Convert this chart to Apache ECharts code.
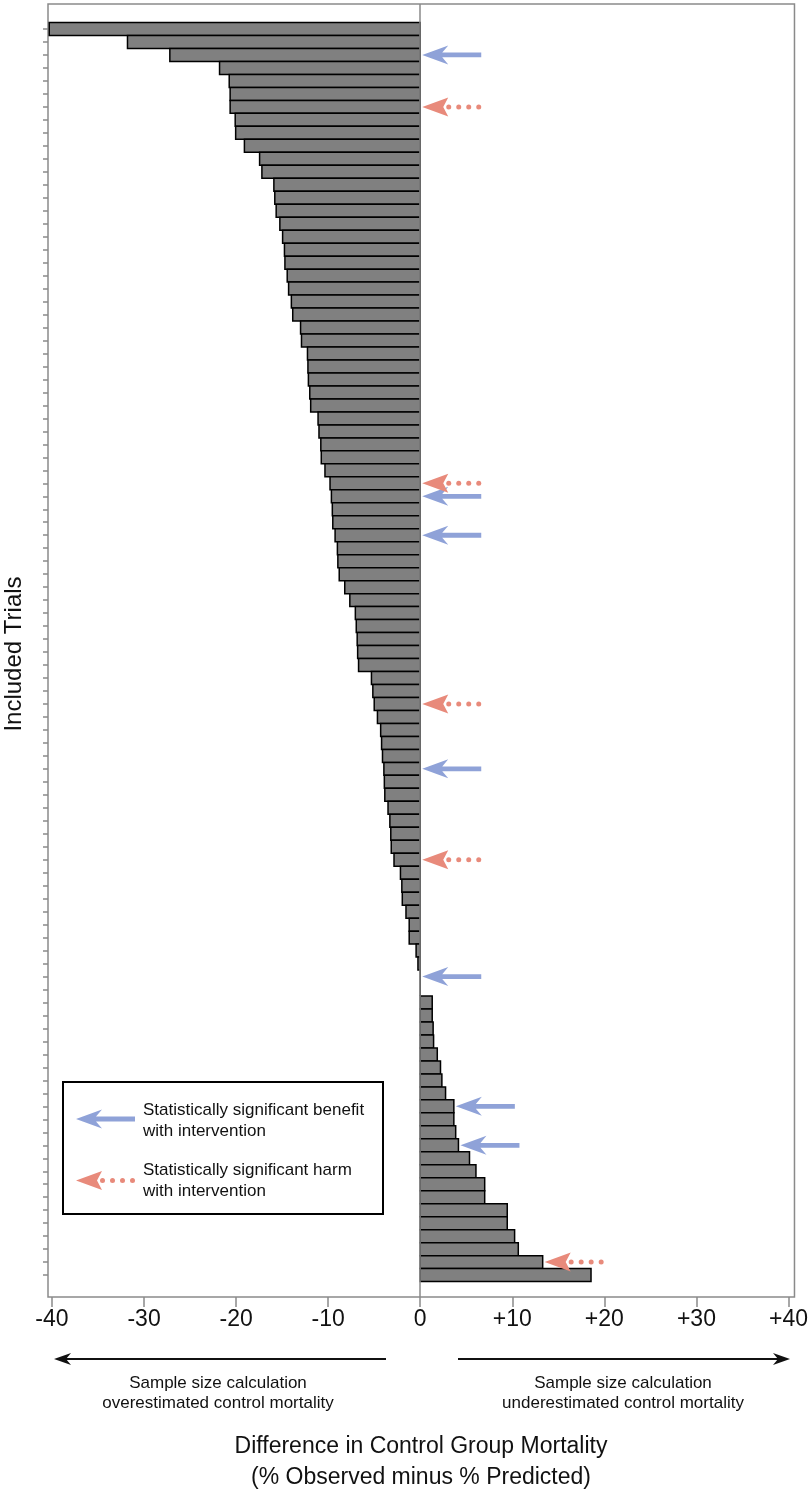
<!DOCTYPE html>
<html>
<head>
<meta charset="utf-8">
<script src="https://cdn.jsdelivr.net/npm/echarts@6/dist/echarts.min.js"></script>
<style>
html,body{margin:0;padding:0;background:#fff;}
#chart{width:811px;height:1500px;}
</style>
</head>
<body>
<div id="chart"></div>
<script>
// ---- data ----
const trialIndex = Array.from({length: 97}, (_, i) => i);
const mortalityDiff = [
  -40.3, -31.8, -27.2, -21.8, -20.75, -20.65, -20.65, -20.1, -20.05, -19.1,
  -17.45, -17.2, -15.9, -15.8, -15.65, -15.25, -14.95, -14.75, -14.7, -14.45,
  -14.3, -14.0, -13.85, -13.0, -12.9, -12.25, -12.2, -12.15, -12.0, -11.9,
  -11.1, -11.0, -10.8, -10.75, -10.35, -9.8, -9.65, -9.55, -9.5, -9.25,
  -9.0, -8.95, -8.8, -8.2, -7.65, -7.05, -6.95, -6.85, -6.8, -6.7,
  -5.3, -5.15, -5.0, -4.65, -4.3, -4.2, -4.1, -3.95, -3.9, -3.85,
  -3.5, -3.3, -3.2, -3.15, -2.85, -2.15, -2.0, -1.95, -1.55, -1.2,
  -1.2, -0.45, -0.25, 0, 0, 1.3, 1.3, 1.4, 1.45, 1.85,
  2.2, 2.35, 2.75, 3.65, 3.65, 3.85, 4.15, 5.35, 6.05, 7.0,
  7.0, 9.45, 9.45, 10.25, 10.65, 13.3, 18.55
];
const benefitTrials = [2, 36, 39, 57, 73, 83, 86];
const harmTrials = [6, 35, 52, 64, 95];
const xTicks = [-40, -30, -20, -10, 0, 10, 20, 30, 40];

const FONT = '"Liberation Sans", Arial, Helvetica, sans-serif';
const BLUE = '#8fa2d8';
const RED = '#e88a7b';

const chart = echarts.init(document.getElementById('chart'), null, {renderer: 'canvas'});

function benefitShape(tx, ty, z) {
  return {
    type: 'polygon', z: z || 0,
    shape: {points: [
      [tx, ty], [tx + 26, ty - 9.5], [tx + 20, ty - 2.4], [tx + 59, ty - 2.4],
      [tx + 59, ty + 2.4], [tx + 20, ty + 2.4], [tx + 26, ty + 9.5]
    ]},
    style: {fill: BLUE}
  };
}
function harmShape(tx, ty, z) {
  const children = [{
    type: 'polygon', z: z || 0,
    shape: {points: [[tx, ty], [tx + 26, ty - 9.5], [tx + 21, ty], [tx + 26, ty + 9.5]]},
    style: {fill: RED}
  }];
  [26.5, 36.5, 46.5, 56.5].forEach(d => {
    children.push({type: 'circle', z: z || 0, shape: {cx: tx + d, cy: ty, r: 2.5}, style: {fill: RED}});
  });
  return {type: 'group', children};
}

const graphics = [
  {type: 'text', x: 14, y: 654, rotation: Math.PI / 2,
   style: {text: 'Included Trials', font: '24px ' + FONT, fill: '#111', align: 'center', verticalAlign: 'middle'}},
  // bottom direction arrows
  {type: 'line', shape: {x1: 386, y1: 1359, x2: 62, y2: 1359}, style: {stroke: '#111', lineWidth: 2}},
  {type: 'polygon', shape: {points: [[54, 1359], [71, 1353], [66, 1359], [71, 1365]]}, style: {fill: '#111'}},
  {type: 'line', shape: {x1: 458, y1: 1359, x2: 782, y2: 1359}, style: {stroke: '#111', lineWidth: 2}},
  {type: 'polygon', shape: {points: [[790, 1359], [773, 1353], [778, 1359], [773, 1365]]}, style: {fill: '#111'}},
  {type: 'text', x: 218, y: 1383,
   style: {text: 'Sample size calculation', font: '17px ' + FONT, fill: '#111', align: 'center', verticalAlign: 'middle'}},
  {type: 'text', x: 218, y: 1403,
   style: {text: 'overestimated control mortality', font: '17px ' + FONT, fill: '#111', align: 'center', verticalAlign: 'middle'}},
  {type: 'text', x: 623, y: 1383,
   style: {text: 'Sample size calculation', font: '17px ' + FONT, fill: '#111', align: 'center', verticalAlign: 'middle'}},
  {type: 'text', x: 623, y: 1403,
   style: {text: 'underestimated control mortality', font: '17px ' + FONT, fill: '#111', align: 'center', verticalAlign: 'middle'}},
  {type: 'text', x: 421, y: 1447,
   style: {text: 'Difference in Control Group Mortality', font: '23px ' + FONT, fill: '#111', align: 'center', verticalAlign: 'middle'}},
  {type: 'text', x: 421, y: 1478,
   style: {text: '(% Observed minus % Predicted)', font: '23px ' + FONT, fill: '#111', align: 'center', verticalAlign: 'middle'}},
  // legend box
  {type: 'rect', shape: {x: 63, y: 1082, width: 320, height: 132}, style: {fill: '#fff', stroke: '#000', lineWidth: 2}, z: 10},
  benefitShape(76, 1119, 11),
  harmShape(76, 1180.5, 11),
  {type: 'text', x: 143, y: 1110.5, z: 11,
   style: {text: 'Statistically significant benefit', font: '17px ' + FONT, fill: '#111', align: 'left', verticalAlign: 'middle'}},
  {type: 'text', x: 143, y: 1131.5, z: 11,
   style: {text: 'with intervention', font: '17px ' + FONT, fill: '#111', align: 'left', verticalAlign: 'middle'}},
  {type: 'text', x: 143, y: 1170, z: 11,
   style: {text: 'Statistically significant harm', font: '17px ' + FONT, fill: '#111', align: 'left', verticalAlign: 'middle'}},
  {type: 'text', x: 143, y: 1191, z: 11,
   style: {text: 'with intervention', font: '17px ' + FONT, fill: '#111', align: 'left', verticalAlign: 'middle'}}
];

const option = {
  animation: false,
  backgroundColor: '#fff',
  grid: {
    left: 48, right: 16, top: 4, bottom: 203,
    show: true, borderColor: '#8a8a8a', borderWidth: 1.5, backgroundColor: 'transparent'
  },
  xAxis: {
    type: 'value', min: -40.434, max: 40.65, position: 'bottom',
    axisLine: {show: false, onZero: false},
    splitLine: {show: false},
    axisTick: {show: true, customValues: xTicks, length: 10, lineStyle: {color: '#8a8a8a', width: 1.5}},
    axisLabel: {
      customValues: xTicks, margin: 11, color: '#111', fontSize: 23, fontFamily: FONT,
      formatter: v => (v > 0 ? '+' + v : String(v))
    }
  },
  yAxis: {
    type: 'value', inverse: true, min: -1.926, max: 97.687, position: 'left',
    axisLine: {show: false, onZero: false},
    splitLine: {show: false},
    axisLabel: {show: false},
    axisTick: {show: true, customValues: trialIndex, length: 5, lineStyle: {color: '#8a8a8a', width: 1.5}}
  },
  series: [
    {
      type: 'custom',
      data: mortalityDiff.map((v, i) => [v, trialIndex[i]]),
      renderItem: (params, api) => {
        const v = api.value(0), i = api.value(1);
        const p0 = api.coord([0, i]);
        const p1 = api.coord([v, i]);
        const h = api.size([0, 1])[1];
        return {
          type: 'rect',
          shape: {x: Math.min(p0[0], p1[0]), y: p0[1] - h / 2, width: Math.abs(p1[0] - p0[0]), height: h},
          style: {fill: '#808080', stroke: '#000', lineWidth: 1.5}
        };
      },
      markLine: {
        silent: true, symbol: ['none', 'none'], label: {show: false},
        lineStyle: {color: '#8a8a8a', width: 1.5, type: 'solid'},
        data: [{xAxis: 0}]
      },
      z: 2
    },
    {
      type: 'custom',
      data: benefitTrials.map(i => [mortalityDiff[i], i]),
      renderItem: (params, api) => {
        const v = api.value(0), i = api.value(1);
        const p = api.coord([Math.max(0, v), i]);
        return benefitShape(p[0] + 2, p[1]);
      },
      z: 5
    },
    {
      type: 'custom',
      data: harmTrials.map(i => [mortalityDiff[i], i]),
      renderItem: (params, api) => {
        const v = api.value(0), i = api.value(1);
        const p = api.coord([Math.max(0, v), i]);
        return harmShape(p[0] + 2, p[1]);
      },
      z: 5
    }
  ],
  graphic: graphics
};
chart.setOption(option);
</script>
</body>
</html>
